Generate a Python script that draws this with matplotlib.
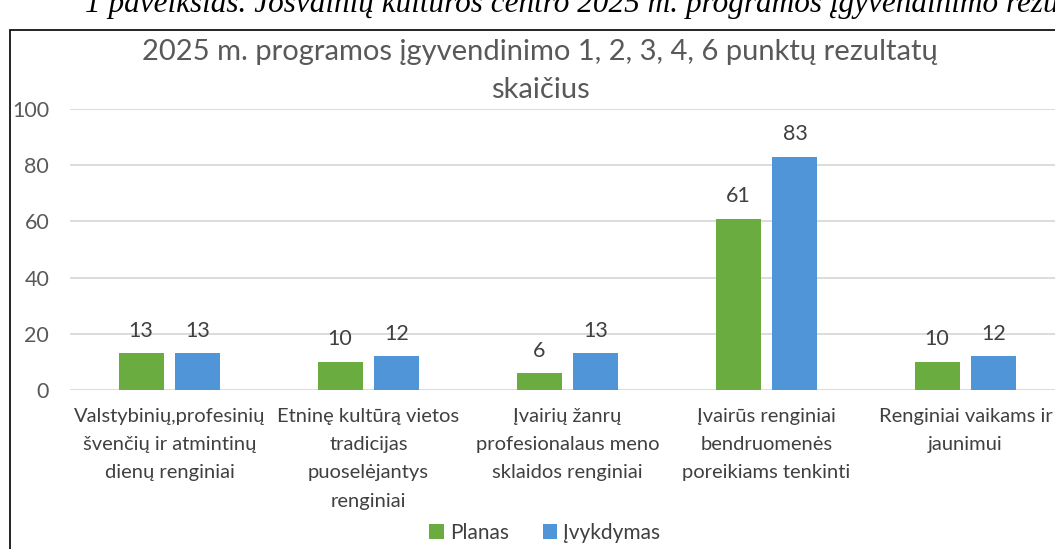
import matplotlib.pyplot as plt
from matplotlib.patches import Rectangle
import numpy as np

# Data
categories = [
    "Valstybinių,profesinių\nšvenčių ir atmintinų\ndienų renginiai",
    "Etninę kultūrą vietos\ntradicijas\npuoselėjantys\nrenginiai",
    "Įvairių žanrų\nprofesionalaus meno\nsklaidos renginiai",
    "Įvairūs renginiai\nbendruomenės\nporeikiams tenkinti",
    "Renginiai vaikams ir\njaunimui",
]
planas = [13, 10, 6, 61, 10]
ivykdymas = [13, 12, 13, 83, 12]
series_names = ["Planas", "Įvykdymas"]
yticks = [0, 20, 40, 60, 80, 100]

title = "2025 m. programos įgyvendinimo 1, 2, 3, 4, 6 punktų rezultatų\nskaičius"
caption = "1 paveikslas. Josvainių kultūros centro 2025 m. programos įgyvendinimo rezultatai"

green = "#6aac3f"
blue = "#4f95d8"
W, H = 1055, 549

plt.rcParams['font.family'] = ['Lato', 'DejaVu Sans']

fig = plt.figure(figsize=(W / 100, H / 100), dpi=100)
fig.patch.set_facecolor("white")

# chart frame (cut off at right and bottom like the screenshot)
fig.patches.append(Rectangle((10 / W, -0.1), 1.5, (H - 30) / H + 0.1,
                             transform=fig.transFigure, fill=False,
                             edgecolor="black", lw=1.2))

# document caption, clipped at the top edge
fig.text(85 / W, (H - 12) / H, caption, family="Liberation Serif",
         style="italic", fontsize=22.5, va="baseline", ha="left", color="black")

ax = fig.add_axes([70 / W, 159 / H, 995 / W, 281 / H])
x = np.arange(len(categories))
bw = 0.226
off = 0.143
b1 = ax.bar(x - off, planas, bw, color=green, label=series_names[0])
b2 = ax.bar(x + off, ivykdymas, bw, color=blue, label=series_names[1])

for bars in (b1, b2):
    for r in bars:
        ax.annotate(f"{r.get_height():.0f}",
                    (r.get_x() + r.get_width() / 2, r.get_height()),
                    xytext=(0, 9), textcoords="offset points",
                    ha="center", va="bottom", fontsize=15.5, color="#404040")

ax.set_xlim(-0.5, len(categories) - 0.5)
ax.set_ylim(0, 100)
ax.set_yticks(yticks)
ax.set_yticklabels([str(t) for t in yticks], fontsize=15.5, color="#595959")
ax.set_xticks(x)
ax.set_xticklabels(categories, fontsize=14.5, color="#404040", linespacing=1.8)
ax.tick_params(axis="both", length=0)
ax.tick_params(axis="x", pad=13)
ax.tick_params(axis="y", pad=15)
ax.grid(axis="y", color="#d9d9d9", lw=1.3)
ax.set_axisbelow(True)
for s in ax.spines.values():
    s.set_visible(False)

fig.text(540 / W, (H - 71) / H, title, ha="center", va="center",
         fontsize=21, color="#595959", linespacing=1.6)

fig.legend(loc="center", bbox_to_anchor=(545 / W, (H - 533) / H), ncol=2,
           frameon=False, fontsize=15, handlelength=0.7, handleheight=0.7,
           handletextpad=0.3, columnspacing=1.6, labelcolor="#404040")

fig.savefig("out.png", dpi=100)
